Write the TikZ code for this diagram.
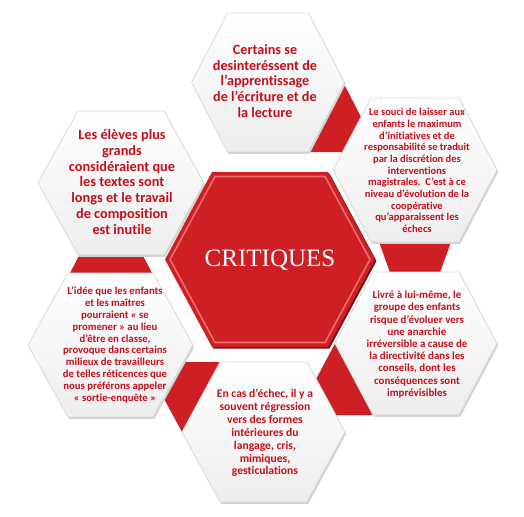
\documentclass[tikz,border=0pt]{standalone}
\usepackage{fontspec}
\setmainfont{Liberation Serif}
\newfontfamily\calfont[Ligatures={NoCommon}]{Carlito}
\definecolor{myred}{RGB}{206,32,36}
\definecolor{lightred}{RGB}{236,110,110}
\definecolor{txtred}{RGB}{196,14,26}
\newcommand\myhex[6]{\path[#6] (#1-#3,#2) -- (#1-#3+#5,#2-#4) -- (#1+#3-#5,#2-#4) -- (#1+#3,#2) -- (#1+#3-#5,#2+#4) -- (#1-#3+#5,#2+#4) -- cycle;}
\newcommand\ohexa[5]{%
  \myhex{#1+1.2}{#2+1.8}{#3}{#4}{#5}{fill=gray!35}%
  \myhex{#1}{#2}{#3}{#4}{#5}{ohex}}
\tikzset{
  wedge/.style={fill=myred},
  ohex/.style={top color=white,bottom color=gray!14,draw=gray!30,line width=0.8pt},
  otext/.style={text=txtred,align=center,inner sep=0pt},
}
\begin{document}
\begin{tikzpicture}[x=1pt,y=-1pt]
\useasboundingbox (0,0) rectangle (524,516);
% red wedges
\path[wedge] (343,82) -- (307,152) -- (379,152) -- cycle;
\path[wedge] (379,242) -- (451,242) -- (415,342) -- cycle;
\path[wedge] (335,343.5) -- (297,415) -- (373,415) -- cycle;
\path[wedge] (182,432) -- (144,362) -- (220,362) -- cycle;
\path[wedge] (70,273) -- (152,273) -- (111,195) -- cycle;
% outer hexagons
\ohexa{268}{82.5}{76.5}{69.5}{36}
\ohexa{121}{183}{83}{72}{40}
\ohexa{415}{170}{82}{72}{38}
\ohexa{416}{343.5}{81}{71.5}{38}
\ohexa{263.5}{432}{81.5}{70}{38}
\ohexa{110.5}{345}{82.5}{72}{40}
% central hexagon
\myhex{271.5}{261}{105}{87.5}{47}{fill=black!45!myred}
\myhex{270}{259.5}{105}{87.5}{47}{fill=myred}
\myhex{270}{259.5}{100}{83}{45}{draw=lightred,line width=1.6pt}
\node[text=white,font=\fontsize{25}{30}\selectfont] (c) at (270,260) {CRITIQUES};
% texts
\node[otext,font=\calfont\bfseries\fontsize{14.2}{15.6}\selectfont] (t1) at (265,81)
  {Certains se\\desinteréssent de\\l’apprentissage\\de l’écriture et de\\la lecture};
\node[otext,font=\calfont\bfseries\fontsize{14.3}{15.7}\selectfont] (t2) at (122,182)
  {Les élèves plus\\grands\\considéraient que\\les textes sont\\longs et le travail\\de composition\\est inutile};
\node[otext,font=\calfont\bfseries\fontsize{10.5}{11.7}\selectfont] (t3) at (417,170.5)
  {Le souci de laisser aux\\enfants le maximum\\d’initiatives et de\\responsabilité se traduit\\par la discrétion des\\interventions\\magistrales.\ \ C’est à ce\\niveau d’évolution de la\\coopérative\\qu’apparaissent les\\échecs};
\node[otext,font=\calfont\bfseries\fontsize{10.9}{12.2}\selectfont] (t4) at (417,344.5)
  {Livré à lui-même, le\\groupe des enfants\\risque d’évoluer vers\\une anarchie\\irréversible a cause de\\la directivité dans les\\conseils, dont les\\conséquences sont\\imprévisibles};
\node[otext,font=\calfont\bfseries\fontsize{11.6}{12.9}\selectfont] (t5) at (265,433)
  {En cas d’échec, il y a\\souvent régression\\vers des formes\\intérieures du\\langage, cris,\\mimiques,\\gesticulations};
\node[otext,font=\calfont\bfseries\fontsize{10.7}{11.8}\selectfont] (t6) at (115,345)
  {L’idée que les enfants\\et les maîtres\\pourraient « se\\promener » au lieu\\d’être en classe,\\provoque dans certains\\milieux de travailleurs\\de telles réticences que\\nous préférons appeler\\« sortie-enquête »};
\end{tikzpicture}
\end{document}
